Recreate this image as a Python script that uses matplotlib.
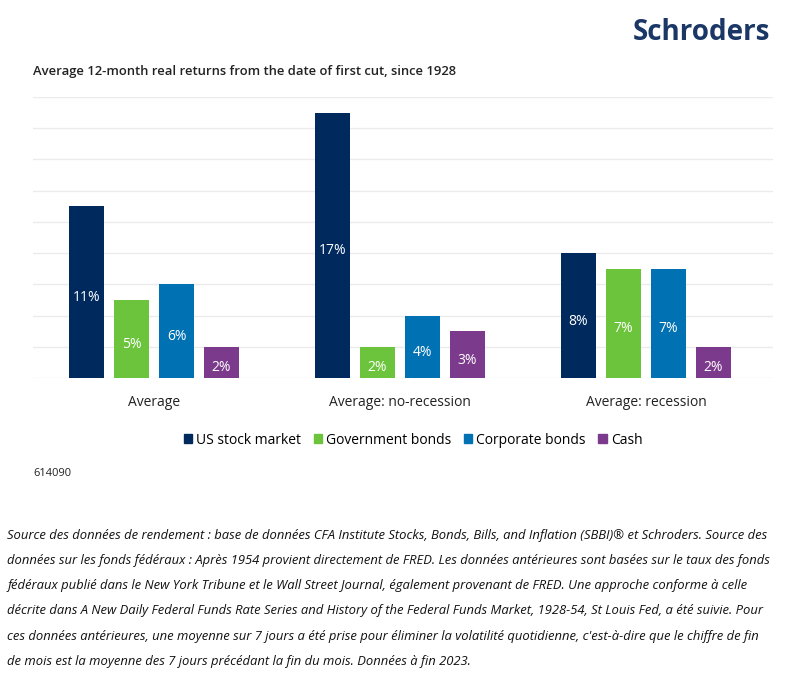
import numpy as np
import matplotlib
matplotlib.use("Agg")
import matplotlib.pyplot as plt
from matplotlib.patches import Patch

plt.rcParams["font.family"] = ["Open Sans", "DejaVu Sans"]

# --- data ------------------------------------------------------------------
groups = ["Average", "Average: no-recession", "Average: recession"]
series = ["US stock market", "Government bonds", "Corporate bonds", "Cash"]
us_stock = [11, 17, 8]
gov_bonds = [5, 2, 7]
corp_bonds = [6, 4, 7]
cash = [2, 3, 2]
colors = ["#002a5e", "#6cc43c", "#0071b3", "#7c3a8c"]

footnote = [
    "Source des données de rendement : base de données CFA Institute Stocks, Bonds, Bills, and Inflation (SBBI)® et Schroders. Source des",
    "données sur les fonds fédéraux : Après 1954 provient directement de FRED. Les données antérieures sont basées sur le taux des fonds",
    "fédéraux publié dans le New York Tribune et le Wall Street Journal, également provenant de FRED. Une approche conforme à celle",
    "décrite dans A New Daily Federal Funds Rate Series and History of the Federal Funds Market, 1928-54, St Louis Fed, a été suivie. Pour",
    "ces données antérieures, une moyenne sur 7 jours a été prise pour éliminer la volatilité quotidienne, c'est-à-dire que le chiffre de fin",
    "de mois est la moyenne des 7 jours précédant la fin du mois. Données à fin 2023.",
]

# --- figure ----------------------------------------------------------------
W, H = 790, 675
fig = plt.figure(figsize=(W / 100, H / 100), dpi=100)
ax = fig.add_axes([33 / W, 1 - 378 / H, (773 - 33) / W, (378 - 97) / H])

x = np.arange(len(groups))
step, width = 0.183, 0.143
for i, (vals, c) in enumerate(zip([us_stock, gov_bonds, corp_bonds, cash], colors)):
    xpos = x + (i - 1.5) * step
    ax.bar(xpos, vals, width, color=c, label=series[i], zorder=3)
    for xp, v in zip(xpos, vals):
        # value label roughly mid-bar, nudged down a little like the original
        ax.annotate(f"{v}%", (xp, v / 2), xytext=(0, -4), textcoords="offset points",
                    ha="center", va="center", color="white", fontsize=10, zorder=4)

ax.set_ylim(0, 18)
ax.set_xlim(-0.492, 2.516)
ax.set_yticks(np.arange(0, 19, 2))
ax.yaxis.grid(True, color="#ebebeb", lw=1)
ax.set_yticklabels([])
ax.tick_params(length=0)
ax.set_xticks(x)
ax.set_xticklabels(groups, fontsize=10, color="#222222")
ax.tick_params(axis="x", pad=12)
for s in ax.spines.values():
    s.set_visible(False)

handles = [Patch(color=c) for c in colors]
fig.legend(handles, series, loc="center", bbox_to_anchor=(413 / W, 1 - 440 / H),
           ncol=4, frameon=False, fontsize=10, handlelength=0.6, handleheight=0.6,
           handletextpad=0.3, columnspacing=0.9)

fig.text(33 / W, 1 - 72 / H, "Average 12-month real returns from the date of first cut, since 1928",
         fontsize=9.4, weight="semibold", color="#222222", va="center")
fig.text(770 / W, 1 - 32 / H, "Schroders", fontsize=20, weight="bold", color="#1a3766",
         ha="right", va="center")
fig.text(33 / W, 1 - 473 / H, "614090", fontsize=8, color="#222222", va="center")

for k, line in enumerate(footnote):
    fig.text(7 / W, 1 - (535 + k * 25.3) / H, line, fontsize=9.4, style="italic",
             color="#111111", va="center")

fig.savefig("out.png", dpi=100)
